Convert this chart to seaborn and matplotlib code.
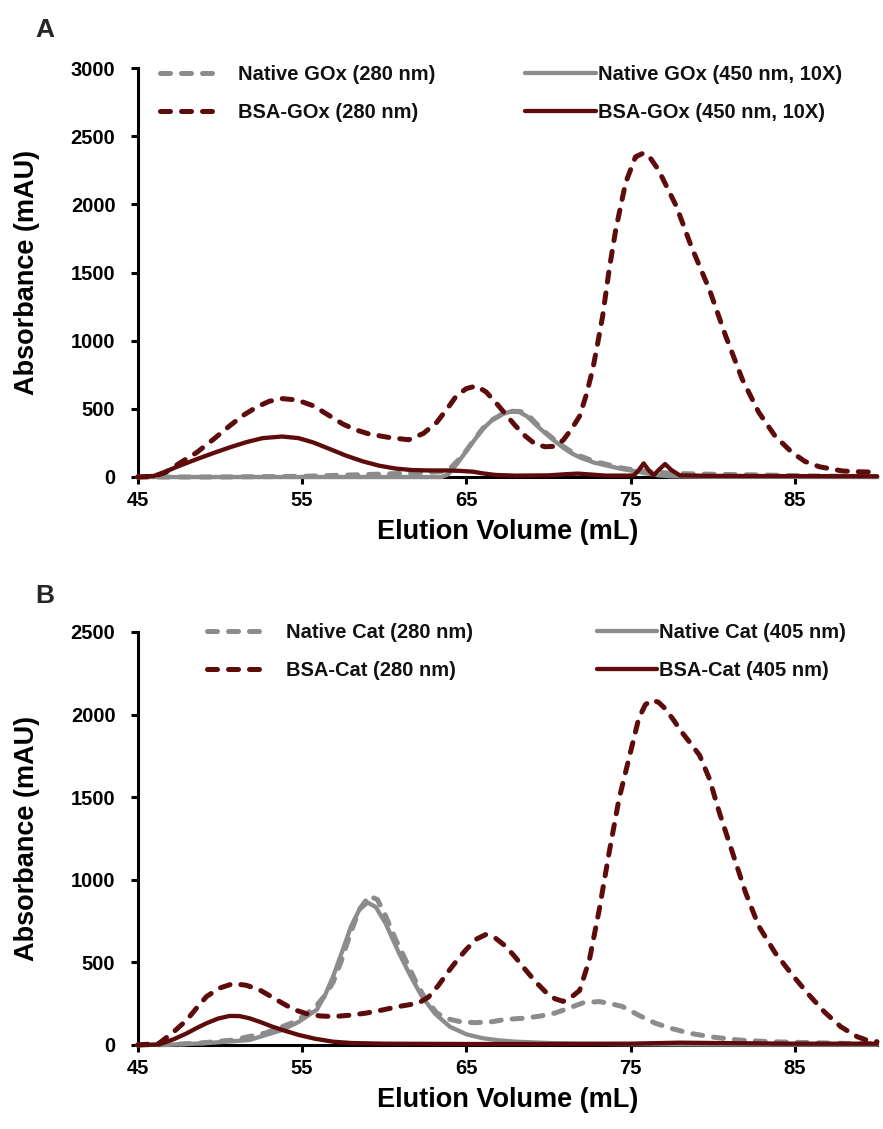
import matplotlib
matplotlib.use("Agg")
import matplotlib.pyplot as plt
import seaborn as sns
import pandas as pd

# ---------------- Panel A: GOx elution profiles ----------------
gox_native_280_vol = [45, 50, 55, 58, 60, 62, 63.5, 64.0, 64.8, 65.4, 66.0, 66.6, 67.2, 67.8, 68.3,
                      68.8, 69.2, 69.8, 70.4, 70.9, 71.4, 71.9, 72.8, 73.7, 74.5, 75.3, 76.5, 78,
                      80, 83, 86, 90]
gox_native_280_abs = [0, 0, 5, 15, 22, 30, 40, 60, 160, 260, 355, 420, 462, 482, 480,
                      450, 400, 330, 270, 225, 185, 155, 115, 88, 65, 50, 35, 25,
                      20, 15, 8, 3]

gox_native_450_vol = [45, 63.5, 63.9, 64.4, 64.8, 65.4, 66.0, 66.6, 67.2, 67.7, 68.2, 68.7, 69.2,
                      69.8, 70.4, 70.9, 71.4, 71.9, 72.8, 73.7, 74.5, 75.3, 76.0, 76.7, 77.5, 80, 90]
gox_native_450_abs = [0, 0, 20, 90, 156, 255, 351, 420, 461, 480, 478, 445, 388,
                      322, 262, 215, 175, 144, 105, 80, 58, 42, 25, 12, 5, 2, 0]

gox_bsa_280_vol = [45.0, 46.0, 46.7, 47.6, 48.6, 49.6, 50.6, 51.4, 52.2, 53.0, 53.8, 54.7, 55.7,
                   56.6, 57.5, 58.3, 59.1, 60.3, 61.5, 62.4, 63.2, 63.9, 64.4, 65.0, 65.6, 66.2,
                   66.8, 67.4, 68.0, 68.6, 69.2, 69.8, 70.4, 70.9, 71.4, 71.9, 72.3, 72.7, 73.0,
                   73.3, 73.7, 74.1, 74.7, 75.3, 75.8, 76.2, 76.7, 77.2, 77.8, 78.7, 79.8, 80.8,
                   81.8, 82.8, 83.8, 84.8, 85.6, 86.5, 87.9, 89.0, 90.0]
gox_bsa_280_abs = [0, 5, 34, 105, 180, 275, 375, 450, 510, 555, 575, 565, 522,
                   455, 388, 345, 315, 290, 273, 320, 400, 510, 595, 648, 668, 625,
                   546, 460, 375, 300, 241, 222, 225, 270, 350, 446, 600, 790, 980,
                   1178, 1522, 1814, 2158, 2348, 2377, 2340, 2253, 2130, 1983, 1690, 1375, 1031,
                   717, 475, 300, 183, 115, 75, 44, 38, 35]

gox_bsa_450_vol = [45, 46.0, 46.5, 47.5, 48.6, 49.6, 50.6, 51.6, 52.6, 53.8, 54.8, 55.7, 56.7,
                   57.7, 58.7, 59.7, 60.7, 61.7, 62.7, 63.8, 64.6, 65.4, 66.1, 66.8, 68, 70, 71,
                   71.8, 72.6, 73.5, 74.8, 75.2, 75.5, 75.8, 76.1, 76.4, 76.7, 77.1, 77.5, 78.0,
                   80, 90]
gox_bsa_450_abs = [0, 8, 30, 80, 131, 175, 217, 255, 285, 297, 285, 253, 205,
                   156, 115, 83, 62, 51, 48, 48, 45, 39, 25, 15, 10, 12, 20,
                   25, 18, 10, 10, 12, 50, 100, 50, 12, 50, 95, 50, 12,
                   8, 5]

# ---------------- Panel B: catalase elution profiles ----------------
cat_native_280_vol = [45, 47, 48.8, 50.8, 52.8, 54.4, 55.2, 55.9, 56.4, 56.9, 57.4, 57.9, 58.5,
                      59.1, 59.6, 60.1, 60.7, 61.3, 61.9, 62.5, 63.2, 63.8, 64.6, 65.5, 66.5,
                      67.4, 68.5, 69.5, 70.4, 71.3, 72.1, 73.1, 73.8, 74.5, 75.5, 76.5, 77.5,
                      78.6, 80, 81.6, 83.5, 85.6, 88, 90]
cat_native_280_abs = [0, 3, 12, 30, 73, 134, 180, 240, 300, 380, 510, 660, 821,
                      902, 880, 780, 640, 517, 390, 280, 195, 160, 142, 135, 140,
                      155, 162, 175, 193, 225, 255, 263, 250, 233, 180, 132, 100,
                      71, 48, 30, 20, 15, 10, 8]

cat_native_405_vol = [45, 47, 49, 51.8, 53.8, 54.8, 55.9, 56.4, 56.9, 57.5, 58.0, 58.5, 59.0,
                      59.5, 60.1, 60.9, 61.6, 62.3, 63.1, 64.0, 65.0, 66.0, 67, 68.0, 70, 72,
                      75, 80, 90]
cat_native_405_abs = [0, 2, 10, 30, 91, 140, 213, 300, 415, 580, 720, 820, 862,
                      835, 735, 558, 420, 294, 190, 111, 65, 41, 28, 20, 12, 8,
                      5, 3, 2]

cat_bsa_280_vol = [45, 46.3, 47.2, 48.0, 48.6, 49.2, 50.0, 50.8, 51.6, 52.4, 53.1, 53.8, 54.5,
                   55.3, 56.1, 56.9, 57.9, 58.9, 59.9, 60.9, 61.6, 62.1, 62.7, 63.3, 64.0,
                   64.5, 65.0, 65.6, 66.2, 66.8, 67.4, 68.0, 68.6, 69.2, 69.8, 70.4, 70.9,
                   71.4, 71.9, 72.5, 73.1, 73.7, 74.3, 74.9, 75.5, 75.9, 76.3, 76.7, 77.1,
                   77.6, 78.1, 78.7, 79.2, 79.8, 80.4, 81.2, 82.0, 82.8, 83.8, 84.8, 85.8,
                   86.8, 87.8, 88.8, 89.5, 90]
cat_bsa_280_abs = [0, 10, 80, 152, 225, 294, 345, 371, 362, 335, 295, 254, 215,
                   189, 176, 172, 180, 193, 212, 233, 245, 254, 290, 360, 456,
                   520, 578, 640, 669, 645, 598, 530, 456, 385, 324, 280, 264,
                   290, 330, 517, 821, 1166, 1490, 1733, 1977, 2060, 2088, 2075, 2037,
                   1970, 1896, 1820, 1754, 1612, 1409, 1166, 923, 720, 558, 430, 310,
                   200, 110, 50, 25, 20]

cat_bsa_405_vol = [45, 46.3, 47.2, 48.0, 48.6, 49.2, 49.9, 50.6, 51.2, 51.8, 52.5, 53.2, 54.0,
                   54.8, 55.8, 56.9, 58, 60, 65, 70, 75, 78, 80, 85, 90]
cat_bsa_405_abs = [0, 3, 35, 71, 103, 132, 160, 176, 175, 162, 138, 111, 85,
                   61, 38, 20, 12, 8, 6, 6, 8, 14, 12, 8, 8]

x_ticks = [45, 55, 65, 75, 85]
gox_y_ticks = [0, 500, 1000, 1500, 2000, 2500, 3000]
cat_y_ticks = [0, 500, 1000, 1500, 2000, 2500]

gox_labels = ["Native GOx (280 nm)", "BSA-GOx (280 nm)",
              "Native GOx (450 nm, 10X)", "BSA-GOx (450 nm, 10X)"]
cat_labels = ["Native Cat (280 nm)", "BSA-Cat (280 nm)",
              "Native Cat (405 nm)", "BSA-Cat (405 nm)"]

GRAY = "#8c8c8c"
DARK_RED = "#5e0b0b"

sns.set_theme(style="white")
plt.rcParams["font.family"] = ["Liberation Sans", "DejaVu Sans"]
plt.rcParams["font.weight"] = "bold"

fig = plt.figure(figsize=(8.83, 11.29), dpi=100)
W, H = 883, 1129


def px_axes(x0, y_top, x1, y_bot):
    return fig.add_axes([x0 / W, 1 - y_bot / H, (x1 - x0) / W, (y_bot - y_top) / H])


ax_a = px_axes(137.6, 68, 877, 477)
ax_b = px_axes(137.6, 632, 877, 1045)

DASH = (0, (2.0, 2.2))


def draw_trace(ax, vol, absorb, color, dashed, label):
    df = pd.DataFrame({"vol": vol, "abs": absorb})
    sns.lineplot(data=df, x="vol", y="abs", ax=ax, color=color,
                 linestyle=DASH if dashed else "-",
                 lw=3.6 if dashed else 3.1,
                 dash_capstyle="round", solid_capstyle="round",
                 label=label, legend=False, zorder=3, clip_on=False)
    return ax.lines[-1]


def style_axes(ax, ylim, yticks):
    ax.set_xlim(45, 90)
    ax.set_ylim(*ylim)
    ax.set_xticks(x_ticks)
    ax.set_yticks(yticks)
    for side in ("top", "right"):
        ax.spines[side].set_visible(False)
    for side in ("left", "bottom"):
        ax.spines[side].set_color("black")
        ax.spines[side].set_linewidth(2.2)
    ax.tick_params(axis="both", direction="out", length=5, width=2.2, color="black",
                   labelsize=14.5, labelcolor="black")
    ax.tick_params(axis="y", pad=11)
    ax.tick_params(axis="x", pad=5)
    ax.tick_params(left=True, bottom=True)
    for t in ax.get_xticklabels() + ax.get_yticklabels():
        t.set_fontweight("bold")
    ax.set_xlabel("Elution Volume (mL)", fontsize=19.5, fontweight="bold", color="black")
    ax.set_ylabel("Absorbance (mAU)", fontsize=19.5, fontweight="bold", color="black")
    ax.grid(False)
    ax.set_facecolor("white")


def add_legends(ax, handles, labels, col1_x, col2_x, top_y, len2):
    common = dict(loc="upper left", frameon=False, borderaxespad=0, borderpad=0,
                  labelspacing=0.95, prop={"size": 14.5, "weight": "bold"})
    leg1 = ax.legend(handles[:2], labels[:2], bbox_to_anchor=(col1_x, top_y),
                     handlelength=3.1, handletextpad=0.8, **common)
    ax.add_artist(leg1)
    leg2 = ax.legend(handles[2:], labels[2:], bbox_to_anchor=(col2_x, top_y),
                     handlelength=len2, handletextpad=0.1, **common)
    for leg in (leg1, leg2):
        for t in leg.get_texts():
            t.set_color("#111111")


# Panel A
h_a = [None] * 4
h_a[0] = draw_trace(ax_a, gox_native_280_vol, gox_native_280_abs, GRAY, True, gox_labels[0])
h_a[2] = draw_trace(ax_a, gox_native_450_vol, gox_native_450_abs, GRAY, False, gox_labels[2])
h_a[1] = draw_trace(ax_a, gox_bsa_280_vol, gox_bsa_280_abs, DARK_RED, True, gox_labels[1])
h_a[3] = draw_trace(ax_a, gox_bsa_450_vol, gox_bsa_450_abs, DARK_RED, False, gox_labels[3])
style_axes(ax_a, (0, 3000), gox_y_ticks)
add_legends(ax_a, h_a, gox_labels, 0.030, 0.524, 1.008, 3.5)

# Panel B
h_b = [None] * 4
h_b[0] = draw_trace(ax_b, cat_native_280_vol, cat_native_280_abs, GRAY, True, cat_labels[0])
h_b[2] = draw_trace(ax_b, cat_native_405_vol, cat_native_405_abs, GRAY, False, cat_labels[2])
h_b[1] = draw_trace(ax_b, cat_bsa_280_vol, cat_bsa_280_abs, DARK_RED, True, cat_labels[1])
h_b[3] = draw_trace(ax_b, cat_bsa_405_vol, cat_bsa_405_abs, DARK_RED, False, cat_labels[3])
style_axes(ax_b, (0, 2500), cat_y_ticks)
add_legends(ax_b, h_b, cat_labels, 0.094, 0.621, 1.022, 3.0)

for ax, h in ((ax_a, 409), (ax_b, 413)):
    ax.xaxis.set_label_coords(0.5, -42 / h)
    ax.xaxis.label.set_va("top")
    ax.yaxis.set_label_coords(-98 / 739.4, 0.5)

fig.text(35 / W, 1 - 30 / H, "A", fontsize=19, fontweight="bold", va="center", ha="left")
fig.text(35 / W, 1 - 596 / H, "B", fontsize=19, fontweight="bold", va="center", ha="left")

fig.savefig("out.png", dpi=100, facecolor="white")
